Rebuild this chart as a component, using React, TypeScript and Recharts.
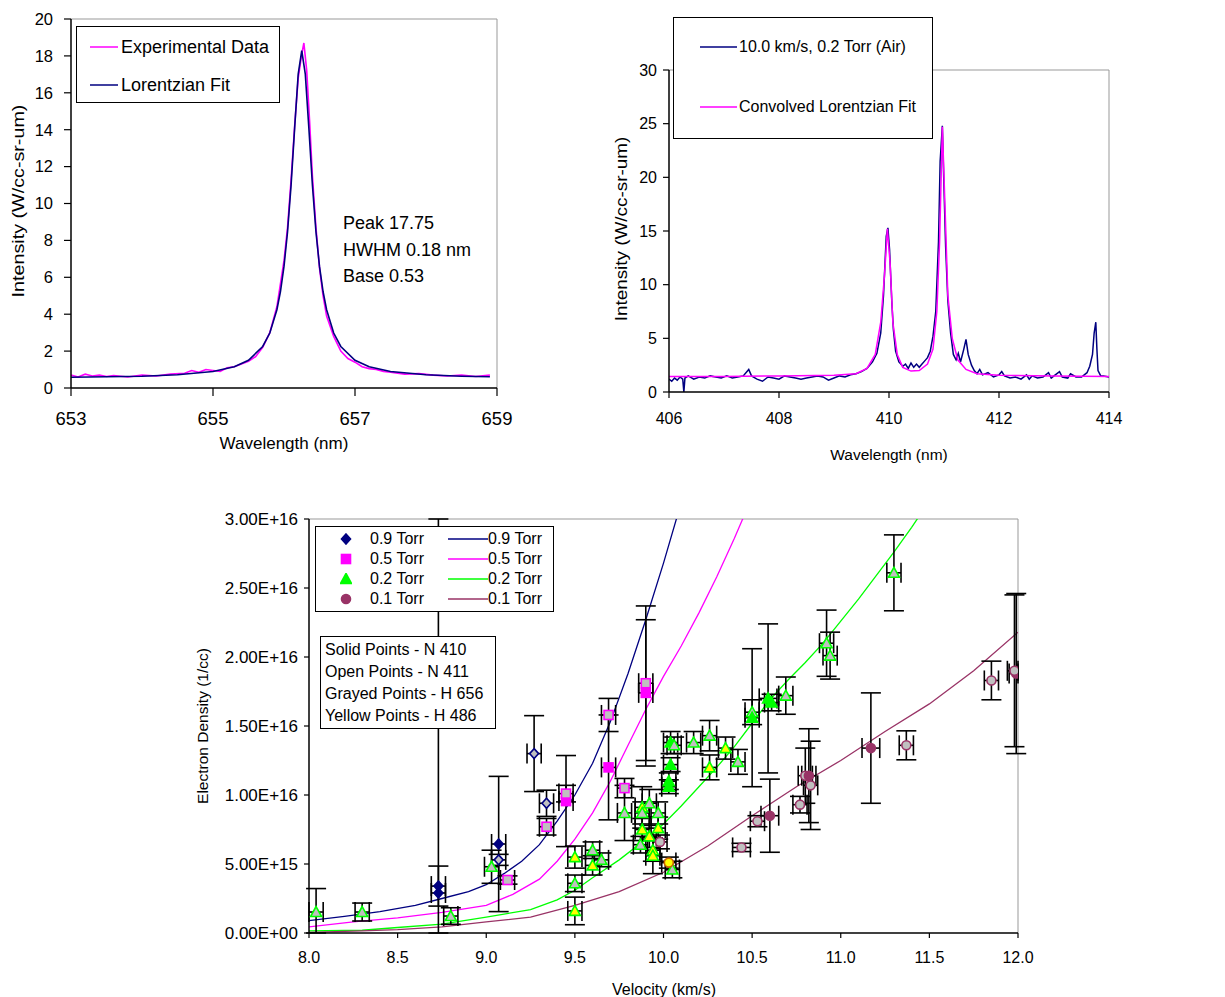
import React from 'react';
import {
  LineChart,
  ComposedChart,
  Line,
  Scatter,
  ErrorBar,
  XAxis,
  YAxis,
  ReferenceLine,
} from 'recharts';

const FONT = '"Liberation Sans", Arial, Helvetica, sans-serif';

// ---------- top left : H 656 line ----------
const haTicksX = [653, 655, 657, 659];
const haTicksY = [0, 2, 4, 6, 8, 10, 12, 14, 16, 18, 20];
const haExperimental: [number, number][] = [
  [653.0, 0.7], [653.1, 0.6], [653.2, 0.75], [653.3, 0.65], [653.4, 0.7], [653.5, 0.62],
  [653.6, 0.68], [653.8, 0.6], [654.0, 0.7], [654.2, 0.65], [654.4, 0.75], [654.6, 0.8],
  [654.7, 0.95], [654.8, 0.85], [654.9, 1.0], [655.0, 0.95], [655.1, 0.9], [655.2, 1.1],
  [655.3, 1.15], [655.4, 1.3], [655.5, 1.45], [655.6, 1.7], [655.7, 2.2], [655.8, 3.0],
  [655.9, 4.4], [656.0, 6.9], [656.05, 8.7], [656.1, 11.3], [656.15, 14.2], [656.2, 16.8],
  [656.25, 18.1], [656.28, 18.7], [656.32, 17.2], [656.36, 14.5], [656.4, 11.5], [656.45, 8.7],
  [656.5, 6.5], [656.55, 5.0], [656.6, 3.9], [656.7, 2.8], [656.8, 2.0], [656.9, 1.6],
  [657.0, 1.4], [657.1, 1.15], [657.2, 1.05], [657.3, 1.0], [657.4, 0.9], [657.5, 0.85],
  [657.7, 0.75], [657.9, 0.78], [658.1, 0.7], [658.3, 0.65], [658.5, 0.7], [658.7, 0.62],
  [658.9, 0.7],
];
const haFit: [number, number][] = [
  [653.0, 0.58], [653.5, 0.61], [654.0, 0.64], [654.5, 0.72], [655.0, 0.89], [655.3, 1.15],
  [655.5, 1.5], [655.7, 2.25], [655.8, 2.98], [655.9, 4.24], [655.95, 5.23], [656.0, 6.59],
  [656.05, 8.47], [656.1, 11.01], [656.15, 14.09], [656.2, 17.01], [656.25, 18.28],
  [656.3, 17.01], [656.35, 14.09], [656.4, 11.01], [656.45, 8.47], [656.5, 6.59],
  [656.55, 5.23], [656.6, 4.24], [656.7, 2.98], [656.8, 2.25], [657.0, 1.5], [657.2, 1.15],
  [657.5, 0.89], [658.0, 0.72], [658.5, 0.64], [658.9, 0.61],
];

// ---------- top right : N 410 / 411 lines ----------
const nTicksX = [406, 408, 410, 412, 414];
const nTicksY = [0, 5, 10, 15, 20, 25, 30];
const nMeasured: [number, number][] = [
  [406.0, 1.2], [406.05, 1.0], [406.1, 1.3], [406.15, 1.1], [406.2, 1.4], [406.25, 1.2],
  [406.27, 0.0], [406.29, 1.3], [406.35, 1.5], [406.45, 1.2], [406.55, 1.4], [406.65, 1.3],
  [406.75, 1.5], [406.85, 1.4], [406.95, 1.3], [407.05, 1.5], [407.15, 1.3], [407.25, 1.4],
  [407.35, 1.5], [407.45, 2.1], [407.5, 1.5], [407.6, 1.2], [407.7, 1.0], [407.8, 1.4],
  [407.9, 1.3], [408.0, 1.2], [408.1, 1.5], [408.2, 1.4], [408.3, 1.3], [408.4, 1.2],
  [408.5, 1.3], [408.6, 1.4], [408.7, 1.5], [408.8, 1.4], [408.9, 1.1], [409.0, 1.3],
  [409.1, 1.5], [409.2, 1.4], [409.3, 1.6], [409.4, 1.7], [409.5, 1.9], [409.6, 2.2],
  [409.7, 2.8], [409.78, 3.6], [409.85, 5.5], [409.9, 9.0], [409.95, 14.5], [409.98, 15.3],
  [410.01, 13.3], [410.05, 8.5], [410.08, 5.8], [410.12, 3.8], [410.18, 2.8], [410.25, 2.4],
  [410.3, 2.6], [410.35, 2.2], [410.4, 2.7], [410.45, 2.3], [410.5, 2.6], [410.55, 2.3],
  [410.6, 2.6], [410.65, 2.9], [410.7, 3.2], [410.75, 3.8], [410.8, 5.2], [410.85, 7.5],
  [410.9, 14.0], [410.93, 21.5], [410.97, 24.8], [411.0, 19.0], [411.03, 13.5], [411.07, 8.5],
  [411.12, 5.5], [411.17, 3.5], [411.22, 3.0], [411.26, 3.6], [411.3, 2.8], [411.36, 4.0],
  [411.4, 4.9], [411.44, 3.5], [411.5, 2.5], [411.55, 2.0], [411.6, 1.7], [411.65, 2.1],
  [411.7, 1.6], [411.8, 1.8], [411.9, 1.4], [412.0, 1.6], [412.05, 1.9], [412.1, 1.5],
  [412.2, 1.3], [412.3, 1.4], [412.4, 1.2], [412.5, 1.6], [412.55, 1.2], [412.6, 1.5],
  [412.7, 1.3], [412.8, 1.4], [412.9, 1.8], [412.95, 1.3], [413.0, 1.5], [413.1, 1.9],
  [413.15, 1.4], [413.25, 1.3], [413.3, 1.7], [413.4, 1.4], [413.5, 1.4], [413.6, 1.8],
  [413.65, 2.4], [413.7, 3.5], [413.73, 5.5], [413.76, 6.5], [413.78, 4.0], [413.8, 2.0],
  [413.85, 1.5], [413.9, 1.5], [414.0, 1.4],
];
const nFit: [number, number][] = [
  [406.0, 1.45], [407.0, 1.45], [408.0, 1.5], [409.0, 1.55], [409.4, 1.7], [409.6, 2.2],
  [409.75, 3.5], [409.85, 6.5], [409.92, 11.0], [409.97, 15.2], [410.02, 12.0], [410.07, 6.5],
  [410.15, 3.5], [410.25, 2.3], [410.4, 1.95], [410.55, 2.0], [410.7, 2.6], [410.8, 4.0],
  [410.87, 7.5], [410.92, 14.0], [410.97, 24.7], [411.02, 17.0], [411.07, 9.0], [411.15, 5.0],
  [411.25, 3.0], [411.4, 2.1], [411.6, 1.7], [412.0, 1.55], [413.0, 1.5], [414.0, 1.45],
];

// ---------- bottom : electron density vs velocity ----------
const velTicks = [8, 8.5, 9, 9.5, 10, 10.5, 11, 11.5, 12];
const denTicks = [0, 5e15, 1e16, 1.5e16, 2e16, 2.5e16, 3e16];

type Kind = 'solid' | 'gray' | 'yellow';
type Err = number | [number, number];
// velocity, density, x error, y error (symmetric or [below, above]), point kind
const pts09: [number, number, Err, Err, Kind][] = [
  [8.73, 3.4e15, 0.04, 1.45e15, 'solid'],
  [8.73, 2.9e15, 0.04, [2.9e15, 2.71e16], 'solid'],
  [9.07, 6.45e15, 0.04, 4.9e15, 'solid'],
  [9.07, 5.3e15, 0.04, 0.4e15, 'gray'],
  [9.27, 1.3e16, 0.04, 2.75e15, 'gray'],
  [9.34, 9.4e15, 0.04, 0.95e15, 'gray'],
];
const pts05: [number, number, Err, Err, Kind][] = [
  [9.12, 3.84e15, 0.04, 0.3e15, 'gray'],
  [9.34, 7.7e15, 0.04, 0.6e15, 'gray'],
  [9.45, 9.56e15, 0.04, 3.3e15, 'solid'],
  [9.45, 1.01e16, 0.04, 0.6e15, 'gray'],
  [9.69, 1.2e16, 0.04, 3.8e15, 'solid'],
  [9.69, 1.58e16, 0.04, 1.2e15, 'gray'],
  [9.78, 1.05e16, 0.04, 0.7e15, 'gray'],
  [9.9, 1.74e16, 0.04, 5.3e15, 'solid'],
  [9.9, 1.81e16, 0.04, 5.6e15, 'gray'],
];
const pts02: [number, number, Err, Err, Kind][] = [
  [8.04, 1.52e15, 0.04, [1.52e15, 1.7e15], 'gray'],
  [8.3, 1.52e15, 0.04, 0.65e15, 'gray'],
  [8.8, 1.23e15, 0.04, 0.6e15, 'gray'],
  [9.03, 4.8e15, 0.04, 1.2e15, 'gray'],
  [9.5, 5.5e15, 0.04, 0.8e15, 'yellow'],
  [9.5, 3.6e15, 0.04, 0.6e15, 'gray'],
  [9.5, 1.6e15, 0.04, 1.0e15, 'yellow'],
  [9.6, 6.0e15, 0.04, 0.6e15, 'gray'],
  [9.6, 4.9e15, 0.04, 0.7e15, 'yellow'],
  [9.65, 5.3e15, 0.04, 0.5e15, 'gray'],
  [9.78, 8.7e15, 0.04, 2.0e15, 'gray'],
  [9.88, 9.1e15, 0.04, 1.5e15, 'yellow'],
  [9.92, 9.4e15, 0.04, 1.0e15, 'gray'],
  [9.88, 8.7e15, 0.04, 0.8e15, 'gray'],
  [9.97, 8.7e15, 0.04, 0.8e15, 'gray'],
  [9.88, 7.5e15, 0.04, 0.8e15, 'yellow'],
  [9.92, 7.0e15, 0.04, 0.8e15, 'yellow'],
  [9.97, 7.6e15, 0.04, 0.8e15, 'yellow'],
  [9.87, 6.4e15, 0.04, 0.6e15, 'gray'],
  [9.94, 6.0e15, 0.04, 0.8e15, 'yellow'],
  [9.94, 5.6e15, 0.04, 1.3e15, 'yellow'],
  [10.05, 4.6e15, 0.04, 0.6e15, 'gray'],
  [10.04, 1.38e16, 0.04, 0.8e15, 'solid'],
  [10.06, 1.36e16, 0.04, 0.6e15, 'gray'],
  [10.04, 1.22e16, 0.04, 0.5e15, 'solid'],
  [10.03, 1.1e16, 0.04, 0.6e15, 'solid'],
  [10.03, 1.06e16, 0.04, 0.5e15, 'solid'],
  [10.17, 1.38e16, 0.04, 0.8e15, 'gray'],
  [10.26, 1.43e16, 0.04, 1.1e15, 'gray'],
  [10.26, 1.2e16, 0.04, 0.9e15, 'yellow'],
  [10.35, 1.34e16, 0.04, 0.8e15, 'yellow'],
  [10.42, 1.24e16, 0.04, 0.9e15, 'gray'],
  [10.5, 1.6e16, 0.04, 0.9e15, 'gray'],
  [10.5, 1.56e16, 0.04, 5.0e15, 'solid'],
  [10.59, 1.7e16, 0.05, 5.4e15, 'solid'],
  [10.61, 1.67e16, 0.04, 0.6e15, 'solid'],
  [10.69, 1.72e16, 0.04, 1.35e15, 'gray'],
  [10.92, 2.1e16, 0.04, 2.4e15, 'gray'],
  [10.94, 2.01e16, 0.04, 1.7e15, 'gray'],
  [11.3, 2.61e16, 0.04, 2.75e15, 'gray'],
];
const pts01: [number, number, Err, Err, Kind][] = [
  [9.98, 6.6e15, 0.04, 0.5e15, 'gray'],
  [10.03, 5.1e15, 0.04, 0.4e15, 'yellow'],
  [10.44, 6.2e15, 0.05, 0.3e15, 'gray'],
  [10.53, 8.1e15, 0.04, 0.4e15, 'gray'],
  [10.6, 8.5e15, 0.05, 2.65e15, 'solid'],
  [10.77, 9.3e15, 0.04, 0.6e15, 'gray'],
  [10.8, 1.14e16, 0.04, 2.0e15, 'gray'],
  [10.82, 1.14e16, 0.04, 3.4e15, 'solid'],
  [10.83, 1.07e16, 0.04, 3.2e15, 'gray'],
  [11.17, 1.34e16, 0.05, 4.0e15, 'solid'],
  [11.37, 1.36e16, 0.04, 1.05e15, 'gray'],
  [11.85, 1.83e16, 0.04, 1.4e15, 'gray'],
  [11.99, 1.88e16, [0.04, 0.01], 5.8e15, 'solid'],
  [11.98, 1.9e16, [0.04, 0.02], 5.5e15, 'gray'],
];

const fit09: [number, number][] = [
  [8.0, 0.9e15], [8.2, 1.2e15], [8.4, 1.55e15], [8.6, 2.0e15], [8.75, 2.5e15], [8.9, 3.0e15],
  [9.0, 3.5e15], [9.1, 4.3e15], [9.2, 5.2e15], [9.3, 6.4e15], [9.4, 8.1e15], [9.5, 1.0e16],
  [9.6, 1.23e16], [9.7, 1.53e16], [9.8, 1.88e16], [9.9, 2.27e16], [10.0, 2.68e16], [10.1, 3.12e16],
];
const fit05: [number, number][] = [
  [8.0, 0.45e15], [8.25, 0.8e15], [8.5, 1.1e15], [8.75, 1.5e15], [9.0, 2.0e15], [9.15, 2.8e15],
  [9.3, 3.9e15], [9.4, 5.2e15], [9.5, 6.8e15], [9.6, 8.7e15], [9.7, 1.1e16], [9.8, 1.36e16],
  [9.9, 1.62e16], [10.0, 1.86e16], [10.1, 2.08e16], [10.2, 2.32e16], [10.3, 2.58e16],
  [10.4, 2.86e16], [10.5, 3.16e16],
];
const fit02: [number, number][] = [
  [8.0, 0.15e15], [8.3, 0.2e15], [8.5, 0.4e15], [8.75, 0.65e15], [9.0, 1.15e15], [9.25, 1.7e15],
  [9.4, 2.4e15], [9.5, 3.1e15], [9.6, 4.0e15], [9.75, 5.3e15], [9.9, 6.8e15], [10.0, 7.9e15],
  [10.1, 9.2e15], [10.2, 1.06e16], [10.3, 1.2e16], [10.4, 1.35e16], [10.5, 1.52e16],
  [10.6, 1.69e16], [10.7, 1.83e16], [10.8, 1.96e16], [10.9, 2.1e16], [11.0, 2.26e16],
  [11.1, 2.42e16], [11.2, 2.59e16], [11.3, 2.76e16], [11.4, 2.94e16], [11.5, 3.13e16],
];
const fit01: [number, number][] = [
  [8.0, 0.05e15], [8.3, 0.15e15], [8.5, 0.25e15], [8.75, 0.45e15], [9.0, 0.8e15], [9.25, 1.15e15],
  [9.5, 2.0e15], [9.75, 3.0e15], [10.0, 4.4e15], [10.25, 6.3e15], [10.5, 8.5e15], [10.75, 1.06e16],
  [11.0, 1.25e16], [11.25, 1.46e16], [11.5, 1.66e16], [11.75, 1.9e16], [12.0, 2.18e16],
];

const xy = (a: [number, number][]) => a.map(([x, y]) => ({ x, y }));
const vd = (a: [number, number][]) => a.map(([v, d]) => ({ v, d }));
const pts = (a: [number, number, Err, Err, Kind][]) =>
  a.map(([v, d, ex, ey, kind]) => ({ v, d, ex, ey, kind }));

const sciLabel = (v: number) => {
  const [m, e] = v.toExponential(2).split('e');
  const n = Number(e);
  return `${m}E${n < 0 ? '-' : '+'}${String(Math.abs(n)).padStart(2, '0')}`;
};

const NAVY = '#000080';
const MAGENTA = '#ff00ff';
const GREEN = '#00ff00';
const MAROON = '#993366';

type ShapeName = 'diamond' | 'square' | 'triangle' | 'circle';

function drawMarker(shape: ShapeName, cx: number, cy: number, stroke: string, fill: string) {
  if (shape === 'diamond')
    return <polygon points={`${cx},${cy - 5} ${cx + 4.5},${cy} ${cx},${cy + 5} ${cx - 4.5},${cy}`} fill={fill} stroke={stroke} strokeWidth={1.6} />;
  if (shape === 'square')
    return <rect x={cx - 4.5} y={cy - 4.5} width={9} height={9} fill={fill} stroke={stroke} strokeWidth={1.6} />;
  if (shape === 'triangle')
    return <polygon points={`${cx},${cy - 5.5} ${cx + 5.5},${cy + 4.5} ${cx - 5.5},${cy + 4.5}`} fill={fill} stroke={stroke} strokeWidth={1.6} />;
  return <circle cx={cx} cy={cy} r={4.5} fill={fill} stroke={stroke} strokeWidth={1.6} />;
}

const markerShape = (shape: ShapeName, color: string) => (props: any) => {
  const { cx, cy, payload } = props;
  if (cx == null || cy == null) return <g />;
  const fill = payload.kind === 'solid' ? color : payload.kind === 'yellow' ? '#ffff00' : '#c0c0c0';
  const stroke = payload.kind === 'yellow' && shape === 'circle' ? '#cc6600' : color;
  return drawMarker(shape, cx, cy, stroke, fill);
};

const axisLine = { stroke: '#000', strokeWidth: 1.5 };
const tickLine = { stroke: '#000', strokeWidth: 1.2 };

function HaChart() {
  return (
    <div style={{ position: 'absolute', left: 0, top: 0 }}>
      <LineChart width={600} height={460} margin={{ top: 19, right: 103, bottom: 42, left: 31 }}>
        <XAxis type="number" dataKey="x" domain={[653, 659]} ticks={haTicksX} interval={0} allowDataOverflow
          height={30} tickSize={8} tickMargin={16} axisLine={axisLine} tickLine={tickLine}
          tick={{ fill: '#000', fontSize: 18.5, fontFamily: FONT }} />
        <YAxis type="number" dataKey="y" domain={[0, 20]} ticks={haTicksY} interval={0} allowDataOverflow
          width={40} tickSize={7} tickMargin={11} axisLine={axisLine} tickLine={tickLine}
          tick={{ fill: '#000', fontSize: 16.5, fontFamily: FONT }} />
        <ReferenceLine y={20} stroke="#999" />
        <ReferenceLine x={659} stroke="#999" />
        <Line data={xy(haExperimental)} dataKey="y" stroke={MAGENTA} strokeWidth={1.6} dot={false} isAnimationActive={false} />
        <Line data={xy(haFit)} dataKey="y" stroke={NAVY} strokeWidth={1.6} dot={false} isAnimationActive={false} />
      </LineChart>
    </div>
  );
}

function NChart() {
  return (
    <div style={{ position: 'absolute', left: 600, top: 0 }}>
      <LineChart width={625} height={470} margin={{ top: 70, right: 116, bottom: 48, left: 19 }}>
        <XAxis type="number" dataKey="x" domain={[406, 414]} ticks={nTicksX} interval={0} allowDataOverflow
          height={30} tickSize={6} tickMargin={15} axisLine={axisLine} tickLine={tickLine}
          tick={{ fill: '#000', fontSize: 16, fontFamily: FONT }} />
        <YAxis type="number" dataKey="y" domain={[0, 30]} ticks={nTicksY} interval={0} allowDataOverflow
          width={50} tickSize={6} tickMargin={6} axisLine={axisLine} tickLine={tickLine}
          tick={{ fill: '#000', fontSize: 16, fontFamily: FONT }} />
        <ReferenceLine y={30} stroke="#999" />
        <ReferenceLine x={414} stroke="#999" />
        <Line data={xy(nMeasured)} dataKey="y" stroke={NAVY} strokeWidth={1.5} dot={false} isAnimationActive={false} />
        <Line data={xy(nFit)} dataKey="y" stroke={MAGENTA} strokeWidth={1.5} dot={false} isAnimationActive={false} />
      </LineChart>
    </div>
  );
}

const series = [
  { name: '0.9 Torr', color: NAVY, shape: 'diamond' as ShapeName, points: pts09, fit: fit09 },
  { name: '0.5 Torr', color: MAGENTA, shape: 'square' as ShapeName, points: pts05, fit: fit05 },
  { name: '0.2 Torr', color: GREEN, shape: 'triangle' as ShapeName, points: pts02, fit: fit02 },
  { name: '0.1 Torr', color: MAROON, shape: 'circle' as ShapeName, points: pts01, fit: fit01 },
];

function DensityChart() {
  return (
    <div style={{ position: 'absolute', left: 180, top: 500 }}>
      <ComposedChart width={1045} height={497} margin={{ top: 19, right: 207, bottom: 34, left: 29 }}>
        <XAxis type="number" dataKey="v" domain={[8, 12]} ticks={velTicks} interval={0} allowDataOverflow
          height={30} tickSize={5} tickMargin={14} axisLine={axisLine} tickLine={tickLine}
          tickFormatter={(v: number) => v.toFixed(1)}
          tick={{ fill: '#000', fontSize: 16, fontFamily: FONT }} />
        <YAxis type="number" dataKey="d" domain={[0, 3e16]} ticks={denTicks} interval={0} allowDataOverflow
          width={100} tickSize={5} tickMargin={6} axisLine={axisLine} tickLine={tickLine}
          tickFormatter={sciLabel}
          tick={{ fill: '#000', fontSize: 17, fontFamily: FONT }} />
        <ReferenceLine y={3e16} stroke="#999" />
        <ReferenceLine x={12} stroke="#999" />
        {series.map((s) => (
          <Line key={'f' + s.name} data={vd(s.fit)} dataKey="d" stroke={s.color} strokeWidth={1.3}
            dot={false} isAnimationActive={false} />
        ))}
        {series.map((s) => (
          <Scatter key={'p' + s.name} data={pts(s.points)} dataKey="d" isAnimationActive={false}
            shape={markerShape(s.shape, s.color)}>
            <ErrorBar dataKey="ey" direction="y" width={10} stroke="#000" strokeWidth={1.6} />
            <ErrorBar dataKey="ex" direction="x" width={10} stroke="#000" strokeWidth={1.6} />
          </Scatter>
        ))}
      </ComposedChart>
    </div>
  );
}

const textStyle: React.CSSProperties = {
  position: 'absolute',
  fontFamily: FONT,
  color: '#000',
  whiteSpace: 'nowrap',
};

function VTitle({ x, y, size, scale, children }: { x: number; y: number; size: number; scale: number; children: React.ReactNode }) {
  return (
    <div style={{ ...textStyle, left: x, top: y, fontSize: size, lineHeight: 1,
      transform: `translate(-50%, -50%) rotate(-90deg) scaleX(${scale})` }}>
      {children}
    </div>
  );
}

function HTitle({ x, y, size, children }: { x: number; y: number; size: number; children: React.ReactNode }) {
  return (
    <div style={{ ...textStyle, left: x, top: y, fontSize: size, lineHeight: 1, transform: 'translate(-50%, -50%)' }}>
      {children}
    </div>
  );
}

const box: React.CSSProperties = {
  position: 'absolute',
  border: '1.5px solid #000',
  background: '#fff',
  boxSizing: 'border-box',
};

function LegendLine({ x1, x2, y, color }: { x1: number; x2: number; y: number; color: string }) {
  return (
    <svg style={{ position: 'absolute', left: x1, top: y - 2, overflow: 'visible' }} width={x2 - x1} height={4}>
      <line x1={0} y1={2} x2={x2 - x1} y2={2} stroke={color} strokeWidth={1.5} />
    </svg>
  );
}

function Row({ x, y, size, children }: { x: number; y: number; size: number; children: React.ReactNode }) {
  return (
    <div style={{ ...textStyle, left: x, top: y, fontSize: size, lineHeight: 1, transform: 'translateY(-50%)' }}>
      {children}
    </div>
  );
}

export default function App() {
  const legendRows = [539, 559, 579, 599];
  const noteRows = [
    { y: 650, text: 'Solid Points - N 410' },
    { y: 672, text: 'Open Points - N 411' },
    { y: 694, text: 'Grayed Points  - H 656' },
    { y: 716, text: 'Yellow Points  - H 486' },
  ];
  return (
    <div style={{ position: 'absolute', left: 0, top: 0, width: 1225, height: 997, background: '#fff', overflow: 'hidden' }}>
      <HaChart />
      <NChart />
      <DensityChart />

      {/* top left labels */}
      <VTitle x={18} y={201} size={17} scale={1.16}>Intensity (W/cc-sr-um)</VTitle>
      <HTitle x={284} y={443} size={17}>Wavelength (nm)</HTitle>
      <Row x={343} y={223} size={18}>Peak 17.75</Row>
      <Row x={343} y={250} size={18}>HWHM 0.18 nm</Row>
      <Row x={343} y={276} size={18}>Base 0.53</Row>
      <div style={{ ...box, left: 76, top: 26, width: 204, height: 77 }} />
      <LegendLine x1={90} x2={118} y={47} color={MAGENTA} />
      <Row x={121} y={47} size={18}>Experimental Data</Row>
      <LegendLine x1={90} x2={118} y={85} color={NAVY} />
      <Row x={121} y={85} size={18}>Lorentzian Fit</Row>

      {/* top right labels */}
      <VTitle x={622} y={229} size={16} scale={1.18}>Intensity (W/cc-sr-um)</VTitle>
      <HTitle x={889} y={455} size={15.5}>Wavelength (nm)</HTitle>
      <div style={{ ...box, left: 673, top: 17, width: 260, height: 122 }} />
      <LegendLine x1={700} x2={737} y={47} color={NAVY} />
      <Row x={739} y={47} size={16}>10.0 km/s, 0.2 Torr (Air)</Row>
      <LegendLine x1={700} x2={737} y={107} color={MAGENTA} />
      <Row x={739} y={107} size={16}>Convolved Lorentzian Fit</Row>

      {/* bottom labels */}
      <VTitle x={203} y={726} size={15.5} scale={1.0}>Electron Density (1/cc)</VTitle>
      <HTitle x={664} y={990} size={16}>Velocity (km/s)</HTitle>
      <div style={{ ...box, left: 315, top: 526, width: 239, height: 86 }} />
      {series.map((s, i) => (
        <React.Fragment key={s.name}>
          <svg style={{ position: 'absolute', left: 340, top: legendRows[i] - 6 }} width={12} height={12}>
            {drawMarker(s.shape, 6, 6, s.color, s.color)}
          </svg>
          <Row x={370} y={legendRows[i]} size={16}>{s.name}</Row>
          <LegendLine x1={448} x2={488} y={legendRows[i]} color={s.color} />
          <Row x={488} y={legendRows[i]} size={16}>{s.name}</Row>
        </React.Fragment>
      ))}
      <div style={{ ...box, left: 320, top: 636, width: 176, height: 93 }} />
      {noteRows.map((r) => (
        <Row key={r.text} x={325} y={r.y} size={16}>{r.text}</Row>
      ))}
    </div>
  );
}
